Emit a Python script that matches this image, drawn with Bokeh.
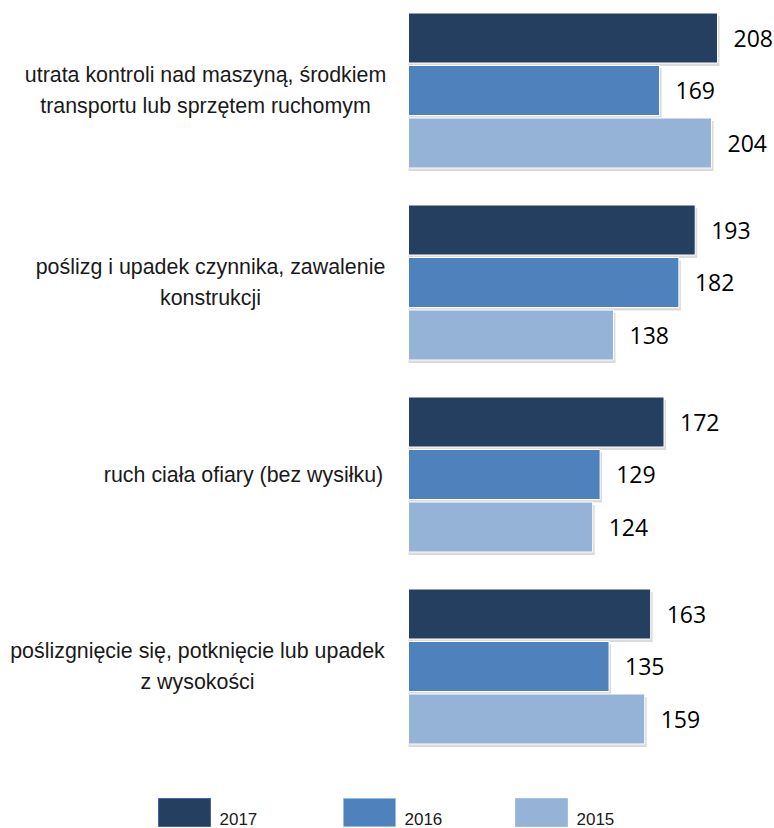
from bokeh.plotting import figure
from bokeh.models import Range1d, ColumnDataSource
from bokeh.core.properties import value
from bokeh.embed import file_html
from bokeh.resources import INLINE

# ---- data ----
categories = [
    "utrata kontroli nad maszyną, środkiem\ntransportu lub sprzętem ruchomym",
    "poślizg i upadek czynnika, zawalenie\nkonstrukcji",
    "ruch ciała ofiary (bez wysiłku)",
    "poślizgnięcie się, potknięcie lub upadek\nz wysokości",
]
years = ["2017", "2016", "2015"]
v2017 = [208, 193, 172, 163]
v2016 = [169, 182, 129, 135]
v2015 = [204, 138, 124, 159]
series = [v2017, v2016, v2015]

# ---- style / layout ----
colors = ["#243F60", "#4F81BD", "#95B3D7"]
W, H = 774, 828
GROUP_PX = 192.0          # pixels per category
FIRST_CENTER_PX = 90.0    # pixel y of first category centre
BAR_PITCH = 52.5 / GROUP_PX
BAR_H = 50.0 / GROUP_PX
ZERO_PX = 408.0
PX_PER_UNIT = 309.0 / 208.0
label_center_px = [205, 210, 243, 197]

x_start = -ZERO_PX / PX_PER_UNIT
x_end = x_start + W / PX_PER_UNIT
y_top = -FIRST_CENTER_PX / GROUP_PX
y_bottom = (H - FIRST_CENTER_PX) / GROUP_PX

p = figure(width=W, height=H, output_backend="svg", toolbar_location=None,
           x_axis_type=None, y_axis_type=None,
           x_range=Range1d(x_start, x_end), y_range=Range1d(y_bottom, y_top),
           min_border=0, outline_line_color=None)
p.grid.visible = False
p.extra_x_ranges = {"px": Range1d(0, W)}
p.extra_y_ranges = {"px": Range1d(H, 0)}

# shadows
for k, vals in enumerate(series):
    ys = [i + (k - 1) * BAR_PITCH + 3.0 / GROUP_PX for i in range(len(categories))]
    xs = [v + 2.0 / PX_PER_UNIT for v in vals]
    p.hbar(y=ys, left=0, right=xs, height=BAR_H, fill_color="#b0b0b0",
           fill_alpha=0.45, line_color=None)

# bars + value labels
for k, vals in enumerate(series):
    ys = [i + (k - 1) * BAR_PITCH for i in range(len(categories))]
    src = ColumnDataSource(dict(y=ys, v=vals, t=[str(v) for v in vals]))
    p.hbar(y="y", left=0, right="v", height=BAR_H, source=src,
           fill_color=colors[k], line_color="white", line_width=1)
    p.text(x="v", y="y", text="t", source=src, x_offset=16,
           text_baseline="middle", text_align="left",
           text_font=value("Open Sans"), text_font_size="23px", text_color="#000000")

# category labels
lab_src = ColumnDataSource(dict(x=label_center_px, y=list(range(len(categories))), t=categories))
p.text(x="x", y="y", text="t", source=lab_src, x_range_name="px",
       text_align="center", text_baseline="middle", text_line_height=1.26,
       text_font=value("Liberation Sans"), text_font_size="21.4px", text_color="#1a1a1a")

# legend
leg_x = [184, 369, 541]
leg_tx = [219, 404, 576]
line_cols = ["#4563A8", "#8FB4E3", "#7FA4D3"]
dashes = ["solid", "1 1", "1 1"]
for k in range(3):
    p.rect(x=[leg_x[k]], y=[812], width=52, height=28, x_range_name="px", y_range_name="px",
           fill_color=colors[k], line_color=line_cols[k], line_width=1, line_dash=dashes[k])
    p.text(x=[leg_tx[k]], y=[824], text=[years[k]], x_range_name="px", y_range_name="px",
           text_align="left", text_baseline="bottom",
           text_font=value("Liberation Sans"), text_font_size="17px", text_color="#1a1a1a")

open("out.html", "w").write(file_html(p, INLINE))
